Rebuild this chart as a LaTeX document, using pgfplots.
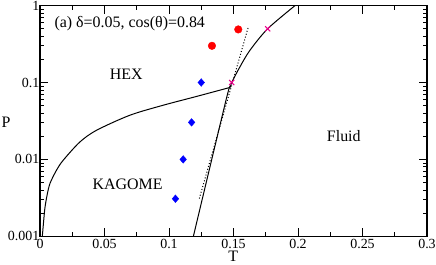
\documentclass[border=0pt]{standalone}
\usepackage{pgfplots}
\pgfplotsset{compat=1.18}
\usepackage{fontspec}
\setmainfont{Liberation Serif}
\begin{document}
\begin{tikzpicture}
\path[use as bounding box] (-40bp,-28bp) rectangle (396bp,236.3bp);
\begin{axis}[
  scale only axis, width=387bp, height=230.7bp,
  xmin=0, xmax=0.3, ymin=0.001, ymax=1,
  ymode=log,
  xtick={0,0.05,0.1,0.15,0.2,0.25,0.3},
  xticklabels={0,0.05,0.1,0.15,0.2,0.25,0.3},
  minor x tick num=1,
  ytick={0.001,0.01,0.1,1},
  yticklabels={0.001,0.01,0.1,1},
  tick align=inside,
  major tick length=8bp, minor tick length=4bp,
  every tick/.style={black, line width=0.8pt},
  axis line style={line width=1.1pt},
  tick label style={font=\fontsize{14}{16}\selectfont},
  xticklabel style={yshift=1bp},
  yticklabel style={inner sep=0.5bp},
  /pgf/number format/assume math mode=true,
  clip=false,
]
% HEX-KAGOME boundary
\addplot[black, line width=1pt, smooth, tension=0.5] coordinates {
(0.0018,0.001) (0.0030,0.0017) (0.0039,0.0024) (0.0056,0.0035) (0.0078,0.0049) (0.0129,0.0073) (0.0181,0.0098)
(0.031,0.0169) (0.044,0.024) (0.0698,0.0376) (0.0956,0.0507) (0.1215,0.066) (0.147,0.086)
};
% melting line
\addplot[black, line width=1pt, smooth, tension=0.5] coordinates {
(0.1189,0.001) (0.1442,0.059) (0.1473,0.086) (0.1486,0.1) (0.155,0.16) (0.1628,0.263) (0.1765,0.5) (0.1977,1)
};
% dotted
\addplot[black, line width=1pt, dotted] coordinates {
(0.1235,0.0031) (0.1615,0.527)
};
% blue diamonds
\addplot[only marks, mark=diamond*, color=blue, mark size=3.8bp, mark options={xscale=1.15}] coordinates {
(0.125,0.1) (0.1175,0.0303) (0.111,0.01) (0.105,0.00308)
};
% red circles
\addplot[only marks, mark=*, color=red, mark size=3.8bp] coordinates {
(0.1333,0.30) (0.1537,0.49)
};
% magenta crosses
\addplot[only marks, mark=x, color=magenta, mark size=3.6bp, line width=1pt] coordinates {
(0.1486,0.1) (0.1765,0.5)
};
\node[anchor=west, font=\fontsize{16}{18}\selectfont, inner sep=0pt] at (rel axis cs:0.037,0.921) {(a) δ=0.05, cos(θ)=0.84};
\node[font=\fontsize{16}{18}\selectfont] at (rel axis cs:0.223,0.702) {HEX};
\node[font=\fontsize{16}{18}\selectfont] at (rel axis cs:0.2266,0.224) {KAGOME};
\node[font=\fontsize{16}{18}\selectfont] at (rel axis cs:0.785,0.4335) {Fluid};
\node[font=\fontsize{16}{18}\selectfont] at (rel axis cs:-0.0879,0.494) {P};
\node[font=\fontsize{16}{18}\selectfont, inner sep=0pt] at (rel axis cs:0.4995,-0.086) {T};
\end{axis}
\end{tikzpicture}
\end{document}
